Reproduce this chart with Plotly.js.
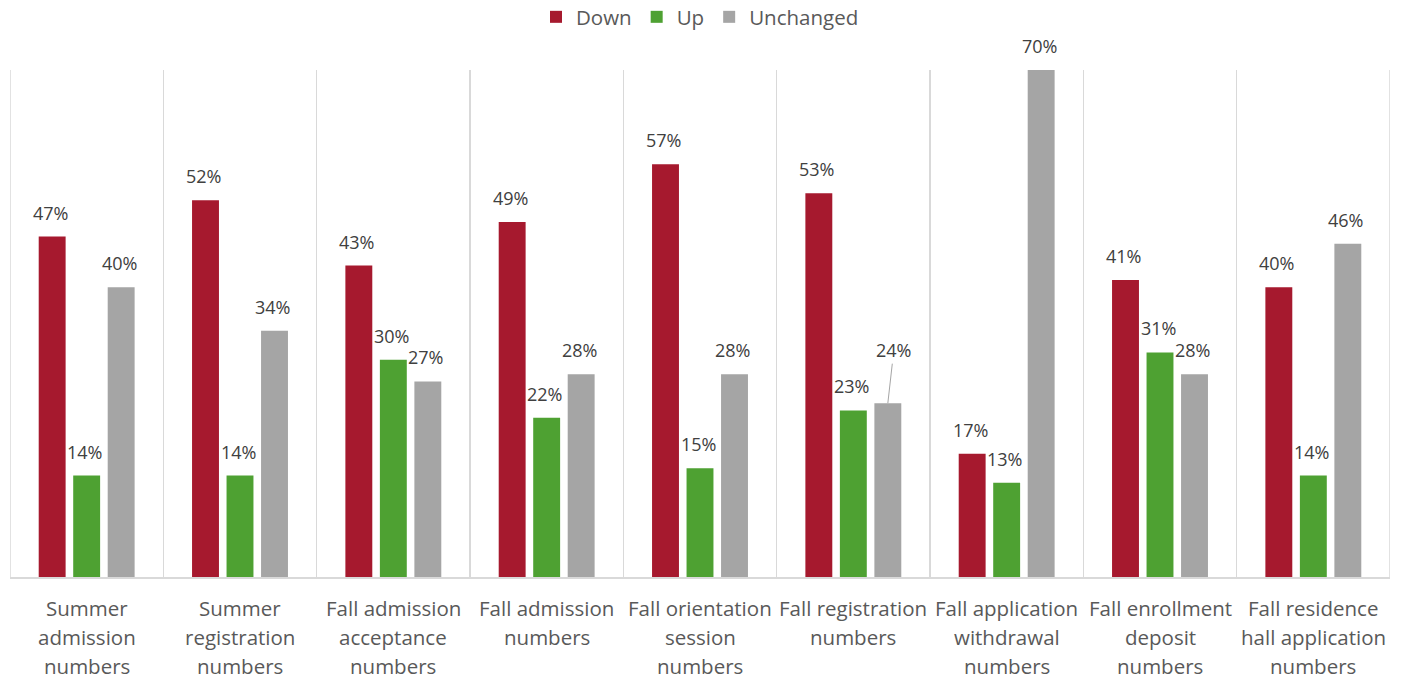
<!DOCTYPE html>
<html>
<head>
<meta charset="utf-8">
<script src="https://cdn.plot.ly/plotly-3.0.1.min.js"></script>
<style>html,body{margin:0;padding:0;background:#fff;}#chart{width:1407px;height:680px;}</style>
</head>
<body>
<div id="chart"></div>
<script>
const categories = [
  "Summer<br>admission<br>numbers",
  "Summer<br>registration<br>numbers",
  "Fall admission<br>acceptance<br>numbers",
  "Fall admission<br>numbers",
  "Fall orientation<br>session<br>numbers",
  "Fall registration<br>numbers",
  "Fall application<br>withdrawal<br>numbers",
  "Fall enrollment<br>deposit<br>numbers",
  "Fall residence<br>hall application<br>numbers"
];
const down = [47, 52, 43, 49, 57, 53, 17, 41, 40];
const up = [14, 14, 30, 22, 15, 23, 13, 31, 14];
const unchanged = [40, 34, 27, 28, 28, 24, 70, 28, 46];
const seriesNames = ["Down", "Up", "Unchanged"];
const seriesColors = ["#A6192E", "#4EA132", "#A5A5A5"];
const leaderIndex = 5; // Unchanged label drawn with a leader line

const FONT = "'Open Sans', sans-serif";
const series = [down, up, unchanged];
const catIdx = categories.map((c, i) => i);

const traces = series.map((vals, s) => ({
  type: "bar",
  name: seriesNames[s],
  x: catIdx,
  y: vals,
  marker: {color: seriesColors[s]},
  hoverinfo: "skip"
}));

const W = 1407, H = 680;
const margin = {l: 10, r: 17, t: 70, b: 103, autoexpand: false};
const plotW = W - margin.l - margin.r;
const catW = plotW / categories.length;
const bargap = 0.325, bargroupgap = 0.22;
const slot = catW * (1 - bargap) / 3;
const LABEL_SIZE = 18;

const annotations = [];
series.forEach((vals, s) => {
  vals.forEach((v, i) => {
    const xs = (s - 1) * slot;
    if (s === 2 && i === leaderIndex) {
      annotations.push({
        x: i, y: v, xref: "x", yref: "y",
        xshift: xs,
        text: v + "%",
        showarrow: true, arrowhead: 0, arrowwidth: 1, arrowcolor: "#A5A5A5",
        ax: 6, ay: -53, standoff: 0,
        font: {family: FONT, size: LABEL_SIZE, color: "#404040"}
      });
    } else {
      annotations.push({
        x: i, y: v, xref: "x", yref: "y",
        xshift: xs - 2, yshift: 24,
        yanchor: "middle", xanchor: "center",
        text: v + "%", showarrow: false,
        font: {family: FONT, size: LABEL_SIZE, color: "#404040"}
      });
    }
  });
});
categories.forEach((c, i) => {
  c.split("<br>").forEach((line, k) => {
    annotations.push({
      x: i, y: 0, xref: "x", yref: "y",
      yanchor: "middle", xanchor: "center",
      yshift: -(31 + 29 * k),
      text: line, showarrow: false,
      font: {family: FONT, size: 20.5, color: "#595959"}
    });
  });
});

const shapes = [-0.5, categories.length - 0.5].map(xv => ({
  type: "line", xref: "x", yref: "y",
  x0: xv, x1: xv, y0: 0, y1: 70,
  line: {color: "#D9D9D9", width: 1.5}
}));

const layout = {
  width: W, height: H,
  margin: margin,
  paper_bgcolor: "#fff", plot_bgcolor: "#fff",
  barmode: "group",
  bargap: bargap, bargroupgap: bargroupgap,
  showlegend: true,
  legend: {
    orientation: "h", x: 0.5, xanchor: "center",
    yref: "container", y: 1 - 17 / H, yanchor: "middle",
    font: {family: FONT, size: 20.5, color: "#595959"},
    itemclick: false
  },
  xaxis: {
    type: "linear",
    range: [-0.5, categories.length - 0.5],
    tickvals: catIdx.map(i => i - 0.5).concat([categories.length - 0.5]),
    showticklabels: false,
    showgrid: true, gridcolor: "#D9D9D9", gridwidth: 1.5,
    zeroline: false,
    showline: true, linecolor: "#D9D9D9", linewidth: 1.5,
    ticks: ""
  },
  yaxis: {
    range: [0, 70],
    visible: false,
    showgrid: false, zeroline: false
  },
  shapes: shapes,
  annotations: annotations
};

Plotly.newPlot("chart", traces, layout, {displayModeBar: false, staticPlot: true});
</script>
</body>
</html>
